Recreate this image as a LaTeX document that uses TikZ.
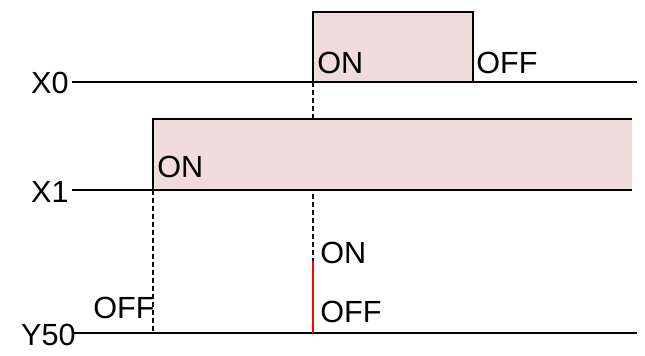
\documentclass[tikz,border=0pt]{standalone}
\usepackage{fontspec}
\setmainfont{Liberation Sans}
\usetikzlibrary{positioning}
\definecolor{pulsepink}{RGB}{242,220,219}

\begin{document}
\begin{tikzpicture}[x=0.5pt,y=-0.5pt,
    sig/.style={line width=1.4pt},
    guide/.style={line width=1.2pt,dash pattern=on 2.5pt off 1.5pt},
    txt/.style={font=\fontsize{15.3}{17}\selectfont,inner sep=0pt},
    lbl/.style={txt,anchor=base west},
    signame/.style={txt,anchor=base east}]
    \useasboundingbox (0,0) rectangle (645,355);

    % Signal names
    \node[signame] (nx0) at (69,93) {X0};
    \node[signame] (nx1) at (69,202) {X1};
    \node[signame] (ny50) at (76,345) {Y50};

    % Points on the time lines
    \coordinate (x0s) at (72,82);
    \coordinate (x0on) at (313,82);
    \coordinate (x0off) at (473,82);
    \coordinate (x0e) at (637,82);
    \coordinate (x1s) at (72,190);
    \coordinate (x1on) at (153,190);
    \coordinate (x1e) at (632,190);
    \coordinate (ys) at (72,333);
    \coordinate (ye) at (637,333);
    \coordinate (yon) at (313,333);
    \coordinate (ytop) at (313,261);
    \coordinate (ycut) at (153,333);

    % Guide lines
    \draw[guide] (x0on) -- (ytop);
    \draw[guide] (x1on) -- (ycut);

    % X0 pulse
    \fill[pulsepink] (x0on) rectangle (473,12);
    \draw[sig] (x0s) -- (x0on) -- (313,12) -- (473,12) -- (x0off) -- (x0e);
    \draw[sig] (x0on) -- (x0off);

    % X1 pulse
    \fill[pulsepink] (x1on) rectangle (632,119);
    \draw[sig] (x1s) -- (x1on) -- (153,119) -- (632,119);
    \draw[sig] (x1on) -- (x1e);

    % Y50
    \draw[sig] (ys) -- (ye);
    \draw[red,line width=1.2pt] (ytop) -- (yon);

    % State labels
    \node[lbl] (x0onl) at (317,73) {ON};
    \node[lbl] (x0offl) at (476,73) {OFF};
    \node[lbl] (x1onl) at (157,177) {ON};
    \node[lbl] (yonl) at (320,263) {ON};
    \node[lbl] (yoffl) at (320,322) {OFF};
    \node[lbl] (yoffleft) at (93,318) {OFF};
\end{tikzpicture}
\end{document}
